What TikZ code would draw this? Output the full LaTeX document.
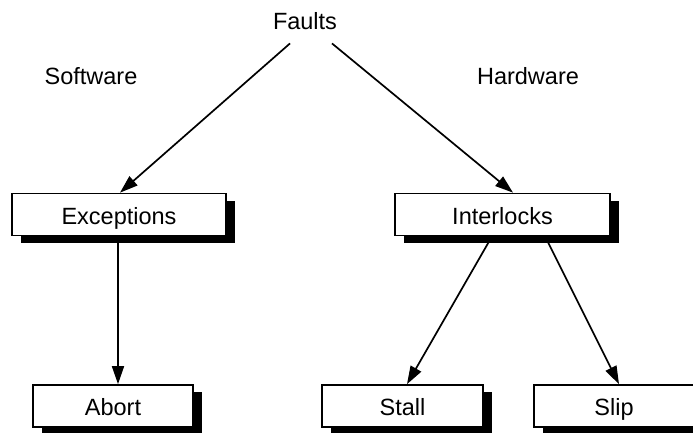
\documentclass[tikz,border=0pt]{standalone}
\usepackage{fontspec}
\setmainfont{Liberation Sans}
\usetikzlibrary{arrows.meta,shadows}
\begin{document}
\begin{tikzpicture}[x=1pt,y=1pt,
  lbl/.style={inner sep=0pt,font=\fontsize{23.5}{28}\selectfont},
  box/.style={draw,line width=1.7pt,fill=white,minimum height=42pt,inner sep=0pt,
    text height=19pt,text depth=0pt,
    font=\fontsize{23.5}{28}\selectfont,
    drop shadow={shadow xshift=9pt,shadow yshift=-7pt,fill=black,opacity=1}},
  arr/.style={line width=1.7pt,-{Triangle[length=18pt,width=12pt]}}]
\useasboundingbox (0,0) rectangle (693,432);
\node[lbl,anchor=base] (faults) at (305,402) {Faults};
\node[lbl,anchor=base] (sw) at (91,347) {Software};
\node[lbl,anchor=base] (hw) at (528,347) {Hardware};
\node[box,minimum width=214pt] (exc) at (119,217.5) {Exceptions};
\node[box,minimum width=215pt] (intl) at (502.5,217.5) {Interlocks};
\node[box,minimum width=160pt] (abort) at (113,26) {Abort};
\node[box,minimum width=161pt] (stall) at (402.5,26) {Stall};
\node[box,minimum width=160pt] (slip) at (614,26) {Slip};
\draw[arr] ([xshift=-15pt,yshift=-13pt]faults.south) -- ([xshift=1pt]exc.north);
\draw[arr] ([xshift=27pt,yshift=-13pt]faults.south) -- ([xshift=10.5pt]intl.north);
\draw[arr] ([xshift=-1pt]exc.south) -- ([xshift=-1pt]exc.south |- abort.north);
\draw[arr] ([xshift=-10.5pt]intl.south) -- ([xshift=4.5pt]stall.north);
\draw[arr] ([xshift=42.5pt]intl.south) -- ([xshift=5pt]slip.north);
\end{tikzpicture}
\end{document}
